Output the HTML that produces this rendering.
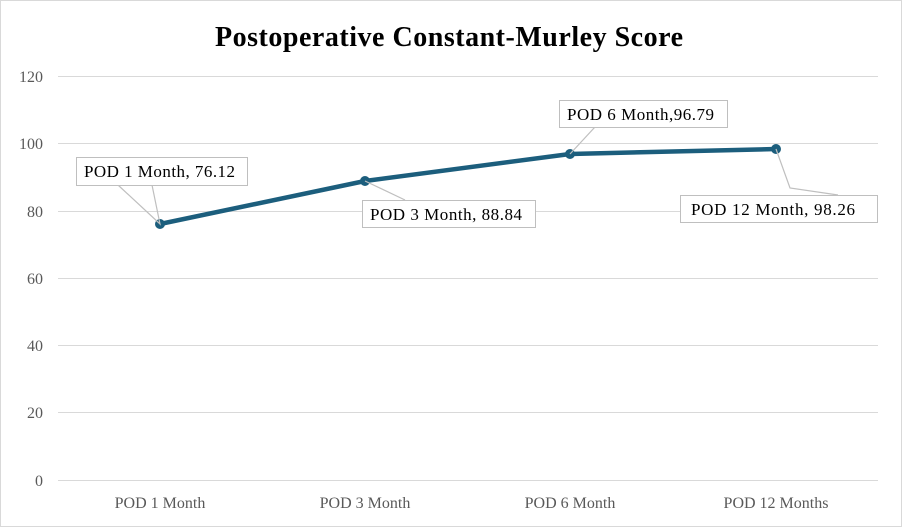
<!DOCTYPE html>
<html><head><style>
body{margin:0;background:#fff;}
svg{display:block;font-family:"Liberation Serif",serif;}
</style></head><body>
<svg width="902" height="527" viewBox="0 0 902 527" xmlns="http://www.w3.org/2000/svg">
<rect x="0.5" y="0.5" width="901" height="526" fill="#fff" stroke="#d9d9d9"/>
<text x="215" y="46" textLength="468" lengthAdjust="spacing" font-size="28" font-weight="bold" fill="#000">Postoperative Constant-Murley Score</text>
<g stroke="#d9d9d9" stroke-width="1">
<line x1="58" y1="76.5" x2="878" y2="76.5"/>
<line x1="58" y1="143.5" x2="878" y2="143.5"/>
<line x1="58" y1="211.5" x2="878" y2="211.5"/>
<line x1="58" y1="278.5" x2="878" y2="278.5"/>
<line x1="58" y1="345.5" x2="878" y2="345.5"/>
<line x1="58" y1="412.5" x2="878" y2="412.5"/>
<line x1="58" y1="480.5" x2="878" y2="480.5"/>
</g>
<g font-size="16" fill="#595959" text-anchor="end">
<text x="43" y="82">120</text><text x="43" y="149">100</text><text x="43" y="217">80</text>
<text x="43" y="284">60</text><text x="43" y="351">40</text><text x="43" y="418">20</text><text x="43" y="486">0</text>
</g>
<g font-size="16" fill="#595959" text-anchor="middle">
<text x="160" y="508">POD 1 Month</text><text x="365" y="508">POD 3 Month</text>
<text x="570" y="508">POD 6 Month</text><text x="776" y="508">POD 12 Months</text>
</g>
<polyline points="160,224 365,181 570,154 776,149" fill="none" stroke="#1c5e7d" stroke-width="4.5" stroke-linejoin="round"/>
<g fill="#1c5e7d" stroke="#1c5e7d">
<circle cx="160" cy="224" r="4.5"/><circle cx="365" cy="181" r="4.5"/><circle cx="570" cy="154" r="4.5"/><circle cx="776" cy="149" r="4.5"/>
</g>
<g stroke="#bfbfbf" stroke-width="1.2" fill="none">
<polyline points="118,185 160,224 152,185"/>
<polyline points="365,181 405,200"/>
<polyline points="570,154 595,127"/>
<polyline points="776,149 790,188 838,195"/>
</g>
<g fill="#fff" stroke="#bfbfbf">
<rect x="76.5" y="157.5" width="171" height="28"/>
<rect x="362.5" y="200.5" width="173" height="27"/>
<rect x="559.5" y="100.5" width="168" height="27"/>
<rect x="680.5" y="195.5" width="197" height="27"/>
</g>
<g font-size="17" fill="#000" lengthAdjust="spacing">
<text x="84" y="177" textLength="151">POD 1 Month, 76.12</text>
<text x="370" y="220" textLength="152">POD 3 Month, 88.84</text>
<text x="567" y="120" textLength="147">POD 6 Month,96.79</text>
<text x="691" y="215" textLength="164">POD 12 Month, 98.26</text>
</g>
</svg>
</body></html>
